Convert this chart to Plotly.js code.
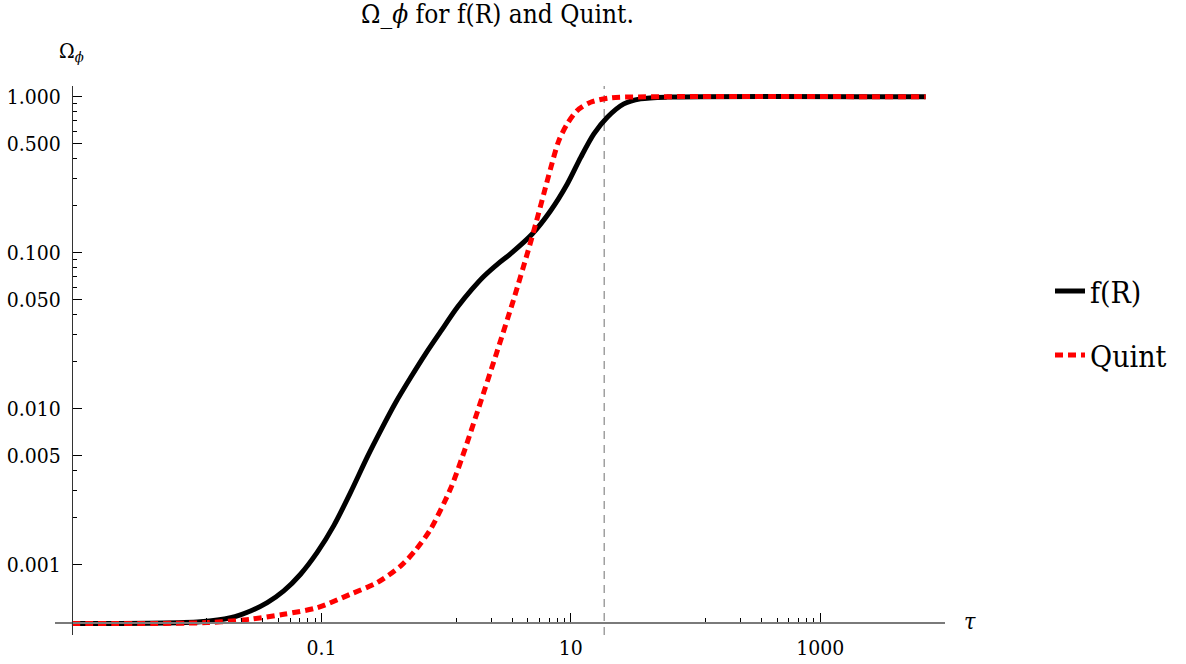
<!DOCTYPE html>
<html>
<head>
<meta charset="utf-8">
<script src="https://cdn.plot.ly/plotly-3.0.1.min.js"></script>
<style>
html,body{margin:0;padding:0;background:#fff;}
#chart{width:1186px;height:664px;}
</style>
</head>
<body>
<div id="chart"></div>
<script>
// ---- data ----
const tauFR = [0.001, 0.0107, 0.0187, 0.027, 0.0368, 0.0499, 0.068, 0.0925, 0.126, 0.171, 0.233, 0.298, 0.393, 0.518, 0.684, 0.902, 1.23, 1.6, 2.0, 2.6, 3.28, 4.9, 6.88, 9.36, 12.0, 15.3, 19.6, 26.6, 36.2, 59.3, 7000];
const omegaFR = [4.2e-4, 4.32e-4, 4.58e-4, 5.06e-4, 5.72e-4, 6.8e-4, 8.7e-4, 1.2e-3, 1.79e-3, 2.9e-3, 4.9e-3, 7.22e-3, 0.01093, 0.0158, 0.0225, 0.0312, 0.0447, 0.058, 0.0705, 0.085, 0.0985, 0.132, 0.186, 0.276, 0.409, 0.578, 0.739, 0.900, 0.969, 0.995, 1.0];

const tauQuint = [0.001, 0.0121, 0.027, 0.0499, 0.0925, 0.171, 0.280, 0.431, 0.568, 0.750, 1.084, 1.354, 1.819, 2.536, 3.472, 4.496, 5.21, 6.074, 6.875, 8.014, 9.357, 11.25, 14.39, 20.8, 34.1, 7000];
const omegaQuint = [4.2e-4, 4.26e-4, 4.48e-4, 4.82e-4, 5.31e-4, 6.48e-4, 7.69e-4, 9.8e-4, 1.24e-3, 1.69e-3, 3.07e-3, 4.96e-3, 0.01007, 0.02273, 0.0500, 0.100, 0.1514, 0.2394, 0.3462, 0.524, 0.670, 0.816, 0.922, 0.984, 0.998, 1.0];

const tauToday = 18.5;          // dashed reference line
const omegaFloor = 4.22e-4;     // where the horizontal axis crosses
const tauStart = 0.001;         // where the vertical axis crosses

const xTickVals = [0.1, 10, 1000];
const xTickText = ['0.1', '10', '1000'];
const xMinorVals = [0.012, 0.023, 0.034, 0.045, 0.056, 0.067, 0.078, 0.089,
                    1.2, 2.3, 3.4, 4.5, 5.6, 6.7, 7.8, 8.9,
                    120, 230, 340, 450, 560, 670, 780, 890];
const yTickVals = [0.001, 0.005, 0.01, 0.05, 0.1, 0.5, 1];
const yTickText = ['0.001', '0.005', '0.010', '0.050', '0.100', '0.500', '1.000'];
const yMinorVals = [0.002, 0.003, 0.004, 0.02, 0.03, 0.04, 0.06, 0.07, 0.08, 0.09,
                    0.2, 0.3, 0.4, 0.6, 0.7, 0.8, 0.9];

// ---- layout geometry ----
const W = 1186, H = 664;
const ML = 55, MR = 241, MT = 86, MB = 29;
const PW = W - ML - MR, PH = H - MT - MB;
const xRange = [-3.136, 4];
const yRange = [-3.45, 0.069];
const pxX = p => (p - ML) / PW;
const pxY = p => (MT + PH - p) / PH;
const FONT = 'DejaVu Serif Condensed, DejaVu Serif';

const traces = [
  {
    x: [tauToday, tauToday], y: [Math.pow(10, yRange[0]), Math.pow(10, yRange[1])],
    mode: 'lines', line: {color: '#707070', width: 1, dash: '8px,6px'},
    showlegend: false, hoverinfo: 'skip'
  },
  {
    x: tauFR, y: omegaFR, name: 'f(R)', legendgroup: 'a',
    mode: 'lines', line: {color: '#000000', width: 5, shape: 'spline', smoothing: 0.8}
  },
  {
    x: tauQuint, y: omegaQuint, name: 'Quint', legendgroup: 'b',
    mode: 'lines', line: {color: '#ff0000', width: 5, dash: '8px,5px', shape: 'spline', smoothing: 0.8}
  }
];

const layout = {
  width: W, height: H,
  margin: {l: ML, r: MR, t: MT, b: MB, pad: 0},
  paper_bgcolor: '#fff', plot_bgcolor: '#fff',
  font: {family: FONT, size: 21, color: '#000'},
  title: {
    text: 'Ω_<i>ϕ</i> for f(R) and Quint.',
    font: {family: FONT, size: 26, color: '#000'},
    xref: 'container', x: 497.5 / W, xanchor: 'center',
    yref: 'container', y: 1 - 14 / H, yanchor: 'middle'
  },
  xaxis: {
    type: 'log', range: xRange, anchor: 'free',
    position: (Math.log10(omegaFloor) - yRange[0]) / (yRange[1] - yRange[0]),
    showgrid: false, zeroline: false,
    showline: true, linecolor: '#7a7a7a', linewidth: 2,
    ticks: 'inside', ticklen: 9, tickwidth: 1, tickcolor: '#000',
    tickmode: 'array', tickvals: xTickVals, ticktext: xTickText,
    ticklabelstandoff: 6,
    tickfont: {family: FONT, size: 21, color: '#000'},
    minor: {tickmode: 'array', tickvals: xMinorVals, ticks: 'inside', ticklen: 4, tickwidth: 1, tickcolor: '#000', showgrid: false}
  },
  yaxis: {
    type: 'log', range: yRange, anchor: 'free',
    position: (Math.log10(tauStart) - xRange[0]) / (xRange[1] - xRange[0]),
    showgrid: false, zeroline: false,
    showline: true, linecolor: '#333', linewidth: 1,
    ticks: 'inside', ticklen: 9, tickwidth: 1, tickcolor: '#000',
    tickmode: 'array', tickvals: yTickVals, ticktext: yTickText,
    ticklabelstandoff: 7,
    tickfont: {family: FONT, size: 21, color: '#000'},
    minor: {tickmode: 'array', tickvals: yMinorVals, ticks: 'inside', ticklen: 4, tickwidth: 1, tickcolor: '#000', showgrid: false}
  },
  legend: {
    x: pxX(1050), xanchor: 'left', y: pxY(265), yanchor: 'top',
    font: {family: FONT, size: 30, color: '#000'},
    traceorder: 'grouped', tracegroupgap: 22,
    bgcolor: 'rgba(0,0,0,0)', borderwidth: 0
  },
  annotations: [
    {text: 'Ω<sub><i>ϕ</i></sub>', xref: 'paper', yref: 'paper', x: pxX(57), xanchor: 'left',
     y: pxY(52), yanchor: 'middle', showarrow: false, font: {family: FONT, size: 21, color: '#000'}},
    {text: '<i>τ</i>', xref: 'paper', yref: 'paper', x: pxX(962), xanchor: 'left',
     y: pxY(621), yanchor: 'middle', showarrow: false, font: {family: FONT, size: 23, color: '#000'}}
  ],
  hovermode: false
};

Plotly.newPlot('chart', traces, layout, {displayModeBar: false, staticPlot: true});
</script>
</body>
</html>
